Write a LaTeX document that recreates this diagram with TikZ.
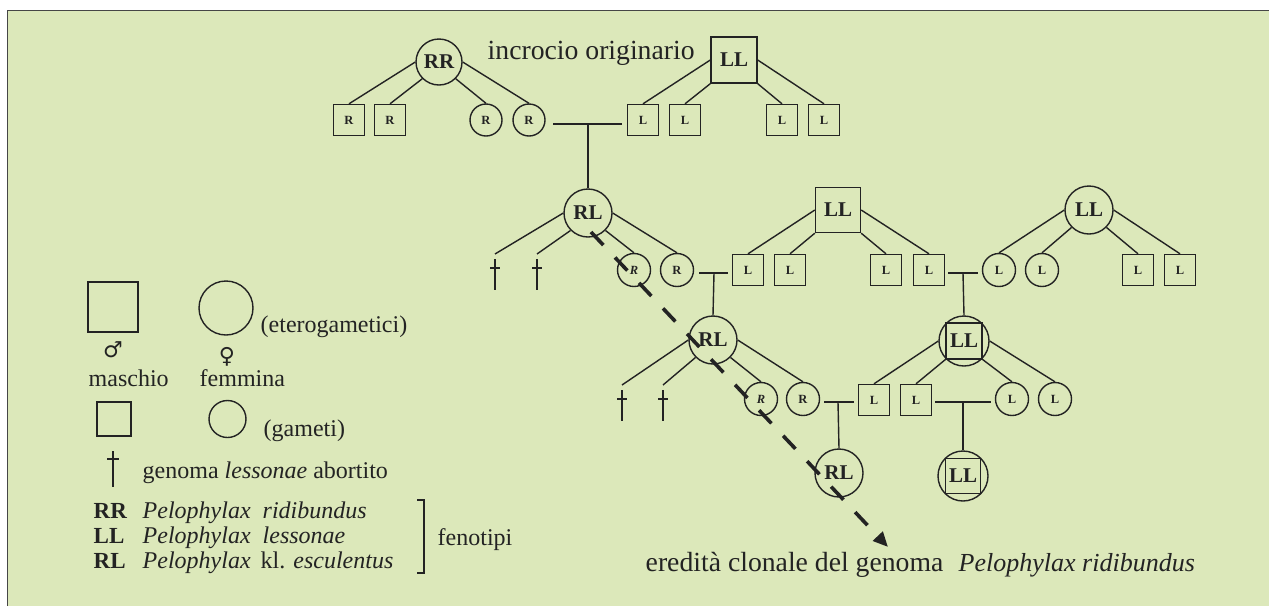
\documentclass[tikz,border=0pt]{standalone}
\usepackage{fontspec}
\setmainfont{Liberation Serif}
\newfontfamily\symfont{DejaVu Sans}
\usetikzlibrary{arrows.meta}
\definecolor{bgreen}{RGB}{220,232,186}
\definecolor{ink}{RGB}{35,35,35}
\definecolor{frame}{RGB}{70,70,70}

\tikzset{
  box/.style={draw, rectangle, minimum size=#1, inner sep=0pt},
  ring/.style={draw, circle, minimum size=#1, inner sep=0pt},
  big/.style={font=\fontsize{21}{21}\selectfont\bfseries},
  small/.style={font=\fontsize{12.5}{12.5}\selectfont\bfseries},
  smallit/.style={font=\fontsize{12.5}{12.5}\selectfont\bfseries\itshape},
  legend/.style={font=\fontsize{24}{24}\selectfont, anchor=base west, inner sep=0pt},
  legbold/.style={font=\fontsize{23}{23}\selectfont\bfseries, anchor=base west, inner sep=0pt},
  caption/.style={font=\fontsize{27.7}{27.7}\selectfont, anchor=base west, inner sep=0pt},
  gender/.style={font=\fontsize{22}{22}\selectfont\symfont, inner sep=0pt},
  dagger/.pic={
    \draw (0,0) -- (0,31);
    \draw (-5,9) -- (5,9);
    \coordinate (-top) at (0,-5);
  },
  clonal/.style={line width=3.6pt, dash pattern=on 18pt off 17pt,
    -{Triangle[length=15pt,width=13pt]}},
}

\begin{document}
\begin{tikzpicture}[x=1pt, y=-1pt, line width=1.4pt, color=ink]
\useasboundingbox (0,0) rectangle (1269,606);
% panel
\fill[bgreen] (8,11) rectangle (1269,606);
\draw[frame, line width=1.3pt] (7.5,606) -- (7.5,10.5) -- (1269,10.5);

% ---------- original cross ----------
\node[ring=46pt, big] (RR) at (439,62) {RR};
\node[caption] (title) at (487,59) {incrocio originario};
\node[box=46pt, big] (LL0) at (734,60) {LL};

\node[box=31pt, small] (r1) at (349,120) {R};
\node[box=31pt, small] (r2) at (390,120) {R};
\node[ring=32pt, small] (r3) at (486,120) {R};
\node[ring=32pt, small] (r4) at (529,120) {R};
\node[box=31pt, small] (l1) at (643,120) {L};
\node[box=31pt, small] (l2) at (685,120) {L};
\node[box=31pt, small] (l3) at (782,120) {L};
\node[box=31pt, small] (l4) at (824,120) {L};

\draw (RR.180) -- (r1.north);
\draw (RR.225) -- (r2.north);
\draw (RR.315) -- (r3.north);
\draw (RR.0)   -- (r4.north);
\draw (LL0.west) -- (l1.north);
\draw (LL0.south west) -- (l2.north);
\draw (LL0.south east) -- (l3.north);
\draw (LL0.east) -- (l4.north);

% ---------- second generation ----------
\node[ring=48pt, big] (RL1) at (588,213) {RL};
\node[box=45pt, big] (LL1) at (838,210) {LL};
\node[ring=48pt, big] (LL2) at (1089,210) {LL};

\coordinate (j1a) at (553,124);
\coordinate (j1b) at (622,124);
\coordinate (j1) at (588,124);
\draw (j1a) -- (j1b);
\draw (j1) -- (RL1.north);

\pic (d1) at (495,259) {dagger};
\pic (d2) at (537,259) {dagger};
\node[ring=33pt, smallit] (ri1) at (634,270) {R};
\node[ring=33pt, small] (rr1) at (677,270) {R};
\node[box=31pt, small] (m1) at (748,270) {L};
\node[box=31pt, small] (m2) at (790,270) {L};
\node[box=31pt, small] (m3) at (886,270) {L};
\node[box=31pt, small] (m4) at (929,270) {L};
\node[ring=33pt, small] (f1) at (999,270) {L};
\node[ring=33pt, small] (f2) at (1042,270) {L};
\node[box=31pt, small] (m5) at (1138,270) {L};
\node[box=31pt, small] (m6) at (1180,270) {L};

\draw (RL1.180) -- (d1-top);
\draw (RL1.225) -- (d2-top);
\draw (RL1.315) -- (ri1.north);
\draw (RL1.0)   -- (rr1.north);
\draw (LL1.west) -- (m1.north);
\draw (LL1.south west) -- (m2.north);
\draw (LL1.south east) -- (m3.north);
\draw (LL1.east) -- (m4.north);
\draw (LL2.180) -- (f1.north);
\draw (LL2.225) -- (f2.north);
\draw (LL2.315) -- (m5.north);
\draw (LL2.0)   -- (m6.north);

% ---------- third generation ----------
\node[ring=48pt, big] (RL2) at (713,340) {RL};
\node[ring=50pt] (LL3) at (964,341) {};
\node[box=36pt, big] (LL3s) at (LL3) {LL};

\coordinate (j2a) at (699,273);
\coordinate (j2b) at (728,273);
\coordinate (j2) at (714,273);
\draw (j2a) -- (j2b);
\draw (j2) -- (RL2.north);
\coordinate (j3a) at (948,273);
\coordinate (j3b) at (978,273);
\coordinate (j3) at (963,273);
\draw (j3a) -- (j3b);
\draw (j3) -- (LL3.north);

\pic (d3) at (622,390) {dagger};
\pic (d4) at (663,390) {dagger};
\node[ring=33pt, smallit] (ri2) at (761,399) {R};
\node[ring=33pt, small] (rr2) at (803,399) {R};
\node[box=31pt, small] (n1) at (874,400) {L};
\node[box=31pt, small] (n2) at (916,400) {L};
\node[ring=33pt, small] (g1) at (1012,399) {L};
\node[ring=33pt, small] (g2) at (1055,399) {L};

\draw (RL2.180) -- (d3-top);
\draw (RL2.225) -- (d4-top);
\draw (RL2.315) -- (ri2.north);
\draw (RL2.0)   -- (rr2.north);
\draw (LL3.180) -- (n1.north);
\draw (LL3.225) -- (n2.north);
\draw (LL3.315) -- (g1.north);
\draw (LL3.0)   -- (g2.north);

% ---------- fourth generation ----------
\node[ring=48pt, big] (RL3) at (839,473) {RL};
\node[ring=50pt] (LL4) at (963,476) {};
\node[box=35pt, big] (LL4s) at (LL4) {LL};

\coordinate (j4a) at (824,402);
\coordinate (j4b) at (854,402);
\coordinate (j4) at (838,402);
\draw (j4a) -- (j4b);
\draw (j4) -- (RL3.north);
\coordinate (j5a) at (935,402);
\coordinate (j5b) at (991,402);
\coordinate (j5) at (963,402);
\draw (j5a) -- (j5b);
\draw (j5) -- (LL4.north);

% ---------- clonal inheritance ----------
\coordinate (cs) at (591,232);
\coordinate (ce) at (888,547);
\draw[clonal] (cs) -- (ce);
\node[caption] (cap) at (645,571) {eredità clonale del genoma};
\node[caption, font=\fontsize{26}{26}\selectfont\itshape] (capit) at (958,571) {Pelophylax ridibundus};

% ---------- legend ----------
\node[box=50pt] (kM) at (113,307) {};
\node[ring=54pt] (kF) at (226,308) {};
\node[legend] (ketero) at (260,332) {(eterogametici)};
\node[gender] (sM) at (113,350) {♂};
\node[gender] (sF) at (227,357) {♀};
\node[legend] (kmas) at (88,386) {maschio};
\node[legend] (kfem) at (199,386) {femmina};
\node[box=34pt] (gM) at (114,419) {};
\node[ring=37pt] (gF) at (227.5,419) {};
\node[legend] (kgam) at (263,436) {(gameti)};
\draw (113,451) -- (113,487);
\draw (107,459) -- (119,459);
\node[legend] (kab) at (142,478) {genoma \textit{lessonae} abortito};

\node[legbold] (kRR) at (93,518) {RR};
\node[legbold] (kLL) at (93,543) {LL};
\node[legbold] (kRL) at (93,568) {RL};
\node[legend] (p1) at (142,518) {\itshape Pelophylax};
\node[legend] (p2) at (142,543) {\itshape Pelophylax};
\node[legend] (p3) at (142,568) {\itshape Pelophylax};
\node[legend] (s1) at (262,518) {\itshape ridibundus};
\node[legend] (s2) at (262,543) {\itshape lessonae};
\node[legend] (s3) at (260,568) {kl. \textit{esculentus}};
\draw (417,500) -- (424,500) -- (424,573) -- (417,573);
\node[legend] (kfen) at (437,545) {fenotipi};
\end{tikzpicture}
\end{document}
